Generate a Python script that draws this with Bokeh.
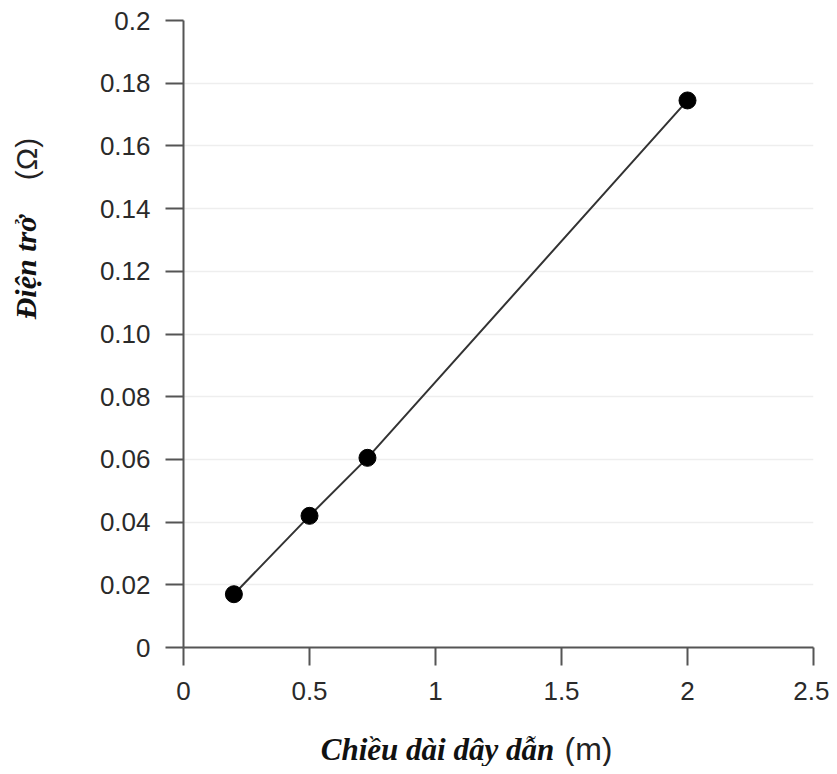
import math
from bokeh.plotting import figure
from bokeh.layouts import column, row
from bokeh.models import Range1d, FixedTicker
from bokeh.core.properties import value
from bokeh.embed import file_html
from bokeh.resources import INLINE

# Data
length_m = [0.2, 0.5, 0.73, 2.0]
resistance_ohm = [0.017, 0.042, 0.0605, 0.1745]

x_ticks = [0, 0.5, 1, 1.5, 2, 2.5]
y_ticks = [0, 0.02, 0.04, 0.06, 0.08, 0.10, 0.12, 0.14, 0.16, 0.18, 0.2]
y_tick_labels = ["0", "0.02", "0.04", "0.06", "0.08", "0.10", "0.12", "0.14", "0.16", "0.18", "0.2"]
x_tick_labels = ["0", "0.5", "1", "1.5", "2", "2.5"]

x_label_main = "Chiều dài dây dẫn"
x_label_unit = "(m)"
y_label_main = "Điện trở"
y_label_unit = "(Ω)"

X0, X1 = 0, 2.5
Y0, Y1 = 0, 0.2

# layout geometry (pixels)
TOTAL_W, TOTAL_H = 829, 766
LEFT_W = 50            # strip holding the y-axis title
MAIN_H = 712           # height of the main plot
BOTTOM_H = TOTAL_H - MAIN_H
FL, FT, FW, FH = 183, 20, 630, 627   # frame position in page pixels
FB = MAIN_H - FT - FH

p = figure(width=TOTAL_W - LEFT_W, height=MAIN_H, output_backend="svg", toolbar_location=None,
           x_range=Range1d(X0, X1), y_range=Range1d(Y0, Y1),
           min_border_left=FL - LEFT_W, min_border_top=FT,
           min_border_right=TOTAL_W - FL - FW, min_border_bottom=FB)
p.outline_line_color = None
p.background_fill_color = "white"
p.border_fill_color = "white"

p.xgrid.grid_line_color = None
p.ygrid.grid_line_color = "#eeeeee"
p.ygrid.grid_line_width = 1.5

p.xaxis.ticker = FixedTicker(ticks=x_ticks)
p.yaxis.ticker = FixedTicker(ticks=y_ticks)
p.xaxis.major_label_overrides = {t: l for t, l in zip(x_ticks, x_tick_labels)}
p.yaxis.major_label_overrides = {t: l for t, l in zip(y_ticks, y_tick_labels)}

for ax in (p.xaxis, p.yaxis):
    ax.axis_line_color = "#555555"
    ax.axis_line_width = 2
    ax.major_tick_line_color = "#555555"
    ax.major_tick_line_width = 2
    ax.major_tick_in = 0
    ax.major_tick_out = 18
    ax.minor_tick_line_color = None
    ax.major_label_text_font = "Liberation Sans"
    ax.major_label_text_font_size = "26px"
    ax.major_label_text_color = "#2a2a2a"
p.yaxis.major_label_standoff = 15
p.xaxis.major_label_standoff = 16

p.line(length_m, resistance_ohm, line_color="#333333", line_width=2)
p.scatter(length_m, resistance_ohm, size=17, fill_color="black", line_color="black")


def blank(w, h, top=0, bottom=0):
    f = figure(width=w, height=h, output_backend="svg", toolbar_location=None,
               title_location=None,
               x_range=Range1d(0, w), y_range=Range1d(0, h - top - bottom),
               x_axis_type=None, y_axis_type=None,
               min_border=0, min_border_left=0, min_border_right=0,
               min_border_top=top, min_border_bottom=bottom)
    f.outline_line_color = None
    f.grid.visible = False
    f.background_fill_color = "white"
    f.border_fill_color = "white"
    return f


# y-axis title strip: same vertical frame as the main plot (y measured from page top)
fy = blank(LEFT_W, MAIN_H, FT, FB)
fy.text(x=[25], y=[FT + FH - 267], text=[y_label_main], angle=math.pi / 2,
        text_align="center", text_baseline="middle",
        text_font=value("Liberation Serif"), text_font_style="bold italic",
        text_font_size="30px", text_color="#111111")
fy.text(x=[25.5], y=[FT + FH - 158.5], text=[y_label_unit], angle=math.pi / 2,
        text_align="center", text_baseline="middle",
        text_font=value("Liberation Sans"), text_font_size="30px", text_color="#222222")

# x-axis title strip
fx = blank(TOTAL_W, BOTTOM_H)
fx.text(x=[437], y=[TOTAL_H - 748.5], text=[x_label_main],
        text_align="center", text_baseline="middle",
        text_font=value("Liberation Serif"), text_font_style="bold italic",
        text_font_size="31px", text_color="#111111")
fx.text(x=[588], y=[TOTAL_H - 748], text=[x_label_unit],
        text_align="center", text_baseline="middle",
        text_font=value("Liberation Sans"), text_font_size="32px", text_color="#222222")

layout = column(row(fy, p, spacing=0), fx, spacing=0)

open("out.html", "w").write(file_html(layout, INLINE))
